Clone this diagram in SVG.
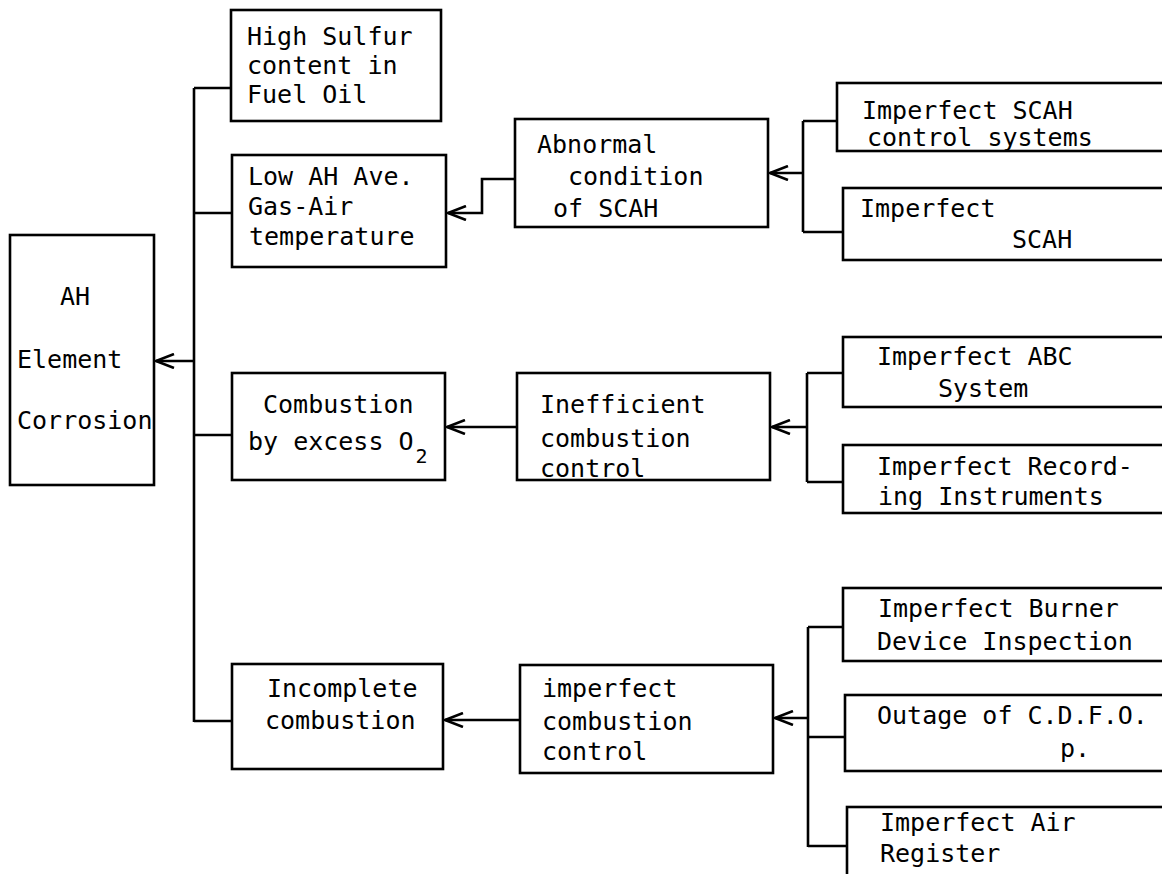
<svg xmlns="http://www.w3.org/2000/svg" width="1162" height="874" viewBox="0 0 1162 874">
<style>
.box{fill:none;stroke:#000;stroke-width:2.6}
.ln{fill:none;stroke:#000;stroke-width:2.6}
.ar{fill:none;stroke:#000;stroke-width:2.6;marker-end:url(#ah)}
text{font-family:"DejaVu Sans Mono","Liberation Mono",monospace;font-size:25px;fill:#000}
.sub{font-size:20px}
</style>
<defs>
<marker id="ah" viewBox="0 0 20 16" refX="19" refY="8" markerWidth="20" markerHeight="16" markerUnits="userSpaceOnUse" orient="auto">
<path d="M1 1 L19 8 L1 15" fill="none" stroke="#000" stroke-width="2.6"/>
</marker>
</defs>
<rect width="1162" height="874" fill="#fff"/>
<g id="connectors">
<path class="ln" d="M194 88 V722"/>
<path class="ln" d="M194 88 H231"/>
<path class="ln" d="M194 213 H232"/>
<path class="ln" d="M194 435 H232"/>
<path class="ln" d="M194 721 H232"/>
<path class="ar" d="M194 361 H156"/>
<path class="ar" d="M515 179 H482 V213 H448"/>
<path class="ln" d="M803 121 V232"/>
<path class="ln" d="M803 121 H837"/>
<path class="ln" d="M803 232 H843"/>
<path class="ar" d="M803 173 H770"/>
<path class="ar" d="M517 427 H447"/>
<path class="ln" d="M807 373 V482"/>
<path class="ln" d="M807 373 H843"/>
<path class="ln" d="M807 482 H843"/>
<path class="ar" d="M807 427 H772"/>
<path class="ar" d="M520 720 H445"/>
<path class="ln" d="M808 627 V847"/>
<path class="ln" d="M808 627 H843"/>
<path class="ln" d="M808 737 H845"/>
<path class="ln" d="M808 846 H847"/>
<path class="ar" d="M808 718 H775"/>
</g>
<g id="n-corrosion">
<rect class="box" x="10" y="235" width="144" height="250"/>
<text x="60" y="305">AH</text>
<text x="17" y="368">Element</text>
<text x="17" y="429">Corrosion</text>
</g>
<g id="n-sulfur">
<rect class="box" x="231" y="10" width="210" height="111"/>
<text x="247" y="45">High Sulfur</text>
<text x="247" y="74">content in</text>
<text x="247" y="103">Fuel Oil</text>
</g>
<g id="n-lowtemp">
<rect class="box" x="232" y="155" width="214" height="112"/>
<text x="248" y="185">Low AH Ave.</text>
<text x="248" y="215">Gas-Air</text>
<text x="249" y="245">temperature</text>
</g>
<g id="n-abnormal">
<rect class="box" x="515" y="119" width="253" height="108"/>
<text x="537" y="153">Abnormal</text>
<text x="568" y="185">condition</text>
<text x="553" y="217">of SCAH</text>
</g>
<g id="n-scahctrl">
<rect class="box" x="837" y="83" width="340" height="68"/>
<text x="862" y="119">Imperfect SCAH</text>
<text x="867" y="146">control systems</text>
</g>
<g id="n-scah">
<rect class="box" x="843" y="188" width="334" height="72"/>
<text x="860" y="217">Imperfect</text>
<text x="1012" y="248">SCAH</text>
</g>
<g id="n-excess">
<rect class="box" x="232" y="373" width="213" height="107"/>
<text x="263" y="413">Combustion</text>
<text x="248" y="450">by excess O<tspan class="sub" dx="2" dy="13">2</tspan></text>
</g>
<g id="n-ineff">
<rect class="box" x="517" y="373" width="253" height="107"/>
<text x="540" y="413">Inefficient</text>
<text x="540" y="447">combustion</text>
<text x="540" y="477">control</text>
</g>
<g id="n-abc">
<rect class="box" x="843" y="337" width="334" height="70"/>
<text x="877" y="365">Imperfect ABC</text>
<text x="938" y="397">System</text>
</g>
<g id="n-rec">
<rect class="box" x="843" y="445" width="334" height="68"/>
<text x="877" y="475">Imperfect Record-</text>
<text x="878" y="505">ing Instruments</text>
</g>
<g id="n-incomplete">
<rect class="box" x="232" y="664" width="211" height="105"/>
<text x="267" y="697">Incomplete</text>
<text x="265" y="729">combustion</text>
</g>
<g id="n-imperfect">
<rect class="box" x="520" y="665" width="253" height="108"/>
<text x="542" y="697">imperfect</text>
<text x="542" y="730">combustion</text>
<text x="542" y="760">control</text>
</g>
<g id="n-burner">
<rect class="box" x="843" y="588" width="334" height="73"/>
<text x="878" y="617">Imperfect Burner</text>
<text x="877" y="650">Device Inspection</text>
</g>
<g id="n-outage">
<rect class="box" x="845" y="695" width="332" height="76"/>
<text x="877" y="724">Outage of C.D.F.O.</text>
<text x="1060" y="757">p.</text>
</g>
<g id="n-air">
<rect class="box" x="847" y="807" width="330" height="80"/>
<text x="880" y="831">Imperfect Air</text>
<text x="880" y="862">Register</text>
</g>
</svg>
